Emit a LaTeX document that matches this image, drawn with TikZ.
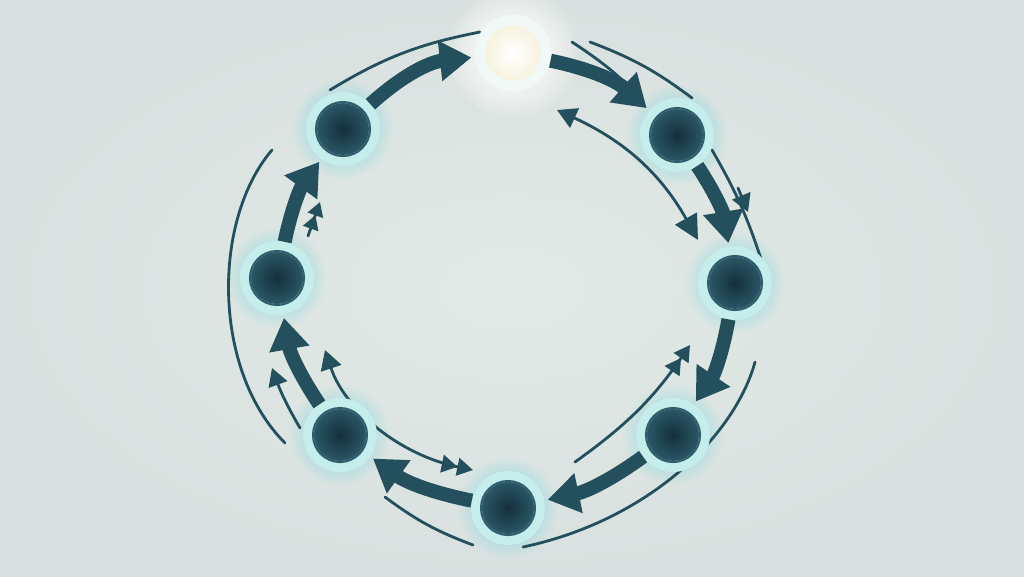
\documentclass[tikz,border=0pt]{standalone}
\usetikzlibrary{arrows.meta}
\definecolor{bgin}{HTML}{E3EAE8}
\definecolor{bgout}{HTML}{D8E1DF}
\definecolor{flow}{HTML}{24505D}
\definecolor{coredark}{HTML}{142F3C}
\definecolor{coreedge}{HTML}{2F5F6D}
\definecolor{ring}{HTML}{C4EDEC}
\definecolor{glow}{HTML}{86DCE0}
\definecolor{lampring}{HTML}{F1F9F7}
\definecolor{cream}{HTML}{F6F0D8}
\tikzset{
  stage/.style={circle,minimum size=6.3mm,inner sep=0pt,line width=3.1pt,
    draw=ring,shade,inner color=coredark,outer color=coreedge},
  lamp/.style={circle,minimum size=6.6mm,inner sep=0pt,line width=3pt,
    draw=lampring,shade,inner color=white,outer color=cream},
  flowarrow/.style={line width=4pt,draw=flow,
    -{Triangle[width=11pt,length=9pt]},shorten >=1pt},
  thinline/.style={line width=0.8pt,draw=flow,line cap=round},
  thinhead/.style={thinline,-{Triangle[width=5.5pt,length=5pt]}},
}
\begin{document}
\begin{tikzpicture}[x=0.1mm,y=-0.1mm]
  \useasboundingbox (0,0) rectangle (1024,576);
  \shade[inner color=bgin,outer color=bgout] (0,0) rectangle (1024,576);
  % glow round the stages
  \foreach \p in {(677,135),(735,283),(673,435),(508,508),(340,435),(277,278),(343,129)}
    \foreach \r in {38,41,...,50}
      \fill[glow,opacity=0.07] \p circle (\r);
  \foreach \r in {40,44,...,64}
    \fill[white,opacity=0.12] (513,53) circle (\r);
  % outer thin arcs
  \draw[thinline] (330,90) to[bend left=10] (480,32);
  \draw[thinhead] (572,42) to[bend left=6] (638,96);
  \draw[thinline] (590,42) to[bend left=8] (692,98);
  \draw[thinline] (712,150) to[bend left=6] (762,262);
  \draw[thinhead] (738,188) -- (748,212);
  \draw[thinline] (272,150) .. controls (212,220) and (212,370) .. (285,443);
  \draw[thinhead] (300,428) to[bend left=5] (272,368);
  \draw[thinline] (473,545) to[bend left=8] (385,497);
  \draw[thinline] (755,362) .. controls (735,435) and (650,520) .. (523,547);
  % inner thin arrows
  \draw[thinline,{Triangle[width=6pt,length=5.5pt]}-{Triangle[width=7pt,length=7pt]}]
    (557,110) to[bend left=18] (698,240);
  \draw[thinline,{Triangle[width=6pt,length=5.5pt]}-{Triangle[width=5pt,length=4.5pt]Triangle[width=5pt,length=4.5pt]}]
    (325,350) .. controls (345,410) and (400,455) .. (473,470);
  \draw[thinline,-{Triangle[width=5pt,length=4.5pt]Triangle[width=5pt,length=4.5pt]}]
    (575,462) to[bend right=10] (690,345);
  \draw[thinline,-{Triangle[width=4.5pt,length=4pt]Triangle[width=4.5pt,length=4pt]}]
    (308,236) -- (320,202);
  % stages
  \node[lamp] (top) at (513,53) {};
  \node[stage] (ur) at (677,135) {};
  \node[stage] (r) at (735,283) {};
  \node[stage] (lr) at (673,435) {};
  \node[stage] (b) at (508,508) {};
  \node[stage] (ll) at (340,435) {};
  \node[stage] (l) at (277,278) {};
  \node[stage] (ul) at (343,129) {};
  \foreach \n in {ur,r,lr,b,ll,l,ul}
    \draw[coreedge,line width=0.6pt] (\n.center) circle (27);
  % main flow
  \draw[flowarrow] (ul) to[bend left=18] (top);
  \draw[flowarrow] (top) to[bend left=15] (ur);
  \draw[flowarrow] (ur) to[bend left=12] (r);
  \draw[flowarrow] (r) to[bend left=12] (lr);
  \draw[flowarrow] (lr) to[bend left=12] (b);
  \draw[flowarrow] (b) to[bend left=12] (ll);
  \draw[flowarrow] (ll) to[bend left=12] (l);
  \draw[flowarrow] (l) to[bend left=12] (ul);
\end{tikzpicture}
\end{document}
